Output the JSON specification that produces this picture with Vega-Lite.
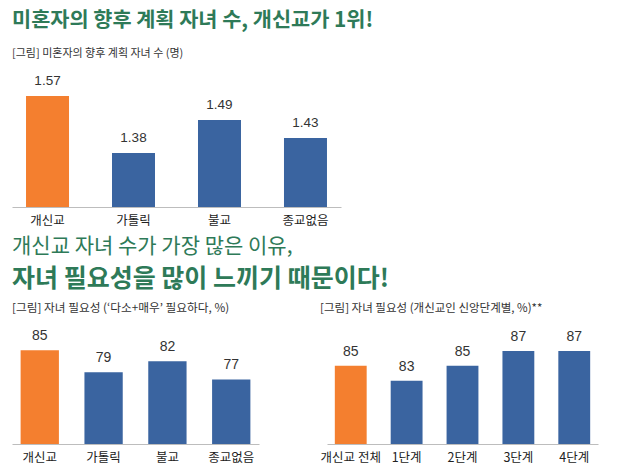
{
  "$schema": "https://vega.github.io/schema/vega-lite/v6.json",
  "background": "white",
  "padding": {"left": 12, "top": 10, "right": 5, "bottom": 2},
  "config": {
    "view": {"stroke": null},
    "font": "Noto Sans CJK KR",
    "axis": {"grid": false, "ticks": false, "domainColor": "#bdbdbd", "labelFont": "Noto Sans CJK KR", "labelFontSize": 12.5, "labelColor": "#222", "labelPadding": 7, "title": null},
    "title": {"anchor": "start", "font": "Noto Sans CJK KR", "subtitleFont": "Noto Sans CJK KR"}
  },
  "datasets": {
    "plan": [
      {"religion": "개신교", "value": 1.57, "group": "p"},
      {"religion": "가톨릭", "value": 1.38, "group": "o"},
      {"religion": "불교", "value": 1.49, "group": "o"},
      {"religion": "종교없음", "value": 1.43, "group": "o"}
    ],
    "need": [
      {"religion": "개신교", "value": 85, "group": "p"},
      {"religion": "가톨릭", "value": 79, "group": "o"},
      {"religion": "불교", "value": 82, "group": "o"},
      {"religion": "종교없음", "value": 77, "group": "o"}
    ],
    "stage": [
      {"stage": "개신교 전체", "value": 85, "group": "p"},
      {"stage": "1단계", "value": 83, "group": "o"},
      {"stage": "2단계", "value": 85, "group": "o"},
      {"stage": "3단계", "value": 87, "group": "o"},
      {"stage": "4단계", "value": 87, "group": "o"}
    ]
  },
  "vconcat": [
    {
      "title": {"text": "미혼자의 향후 계획 자녀 수, 개신교가 1위!", "subtitle": "[그림] 미혼자의 향후 계획 자녀 수 (명)", "fontSize": 20.8, "fontWeight": "bold", "color": "#2e7a58", "subtitleFontSize": 11, "subtitleColor": "#333", "subtitlePadding": 16, "offset": 14},
      "width": 329,
      "height": 120,
      "data": {"name": "plan"},
      "encoding": {
        "x": {"field": "religion", "type": "nominal", "sort": null, "scale": {"paddingInner": 0.5, "paddingOuter": 0.163}, "axis": {"labelAngle": 0}},
        "y": {"field": "value", "type": "quantitative", "scale": {"domain": [1.2, 1.6], "zero": false, "nice": false}, "axis": null}
      },
      "layer": [
        {"mark": {"type": "bar", "clip": true}, "encoding": {"color": {"field": "group", "type": "nominal", "scale": {"domain": ["p", "o"], "range": ["#f47f2f", "#3a64a0"]}, "legend": null}}},
        {"mark": {"type": "text", "baseline": "bottom", "dy": -8, "font": "Liberation Sans", "fontSize": 13.5, "color": "#333"}, "encoding": {"text": {"field": "value", "type": "quantitative", "format": ".2f"}}}
      ]
    },
    {
      "title": {"text": "개신교 자녀 수가 가장 많은 이유,", "subtitle": "자녀 필요성을 많이 느끼기 때문이다!", "fontSize": 21, "fontWeight": "normal", "color": "#2e7a58", "subtitleFontSize": 25, "subtitleFontWeight": "bold", "subtitleColor": "#2e7a58", "subtitlePadding": 10, "offset": 11},
      "spacing": 61,
      "hconcat": [
        {
          "title": {"text": "[그림] 자녀 필요성 (‘다소+매우’ 필요하다, %)", "fontSize": 11.7, "fontWeight": "normal", "color": "#333", "offset": 15},
          "width": 247,
          "height": 105,
          "data": {"name": "need"},
          "encoding": {
            "x": {"field": "religion", "type": "nominal", "sort": null, "scale": {"paddingInner": 0.4, "paddingOuter": 0.135}, "axis": {"labelAngle": 0}},
            "y": {"field": "value", "type": "quantitative", "scale": {"domain": [59.3, 88.1], "zero": false, "nice": false}, "axis": null}
          },
          "layer": [
            {"mark": {"type": "bar", "clip": true}, "encoding": {"color": {"field": "group", "type": "nominal", "scale": {"domain": ["p", "o"], "range": ["#f47f2f", "#3a64a0"]}, "legend": null}}},
            {"mark": {"type": "text", "baseline": "bottom", "dy": -7, "font": "Liberation Sans", "fontSize": 14, "color": "#333"}, "encoding": {"text": {"field": "value", "type": "quantitative"}}}
          ]
        },
        {
          "title": {"text": "[그림] 자녀 필요성 (개신교인 신앙단계별, %)**", "fontSize": 11.5, "fontWeight": "normal", "color": "#333", "offset": 15},
          "width": 271,
          "height": 105,
          "data": {"name": "stage"},
          "encoding": {
            "x": {"field": "stage", "type": "nominal", "sort": null, "scale": {"paddingInner": 0.43, "paddingOuter": 0.14}, "axis": {"labelAngle": 0}},
            "y": {"field": "value", "type": "quantitative", "scale": {"domain": [74.5, 88.6], "zero": false, "nice": false}, "axis": null}
          },
          "layer": [
            {"mark": {"type": "bar", "clip": true}, "encoding": {"color": {"field": "group", "type": "nominal", "scale": {"domain": ["p", "o"], "range": ["#f47f2f", "#3a64a0"]}, "legend": null}}},
            {"mark": {"type": "text", "baseline": "bottom", "dy": -7, "font": "Liberation Sans", "fontSize": 14, "color": "#333"}, "encoding": {"text": {"field": "value", "type": "quantitative"}}}
          ]
        }
      ]
    }
  ],
  "spacing": 8,
  "resolve": {"scale": {"color": "shared"}}
}
